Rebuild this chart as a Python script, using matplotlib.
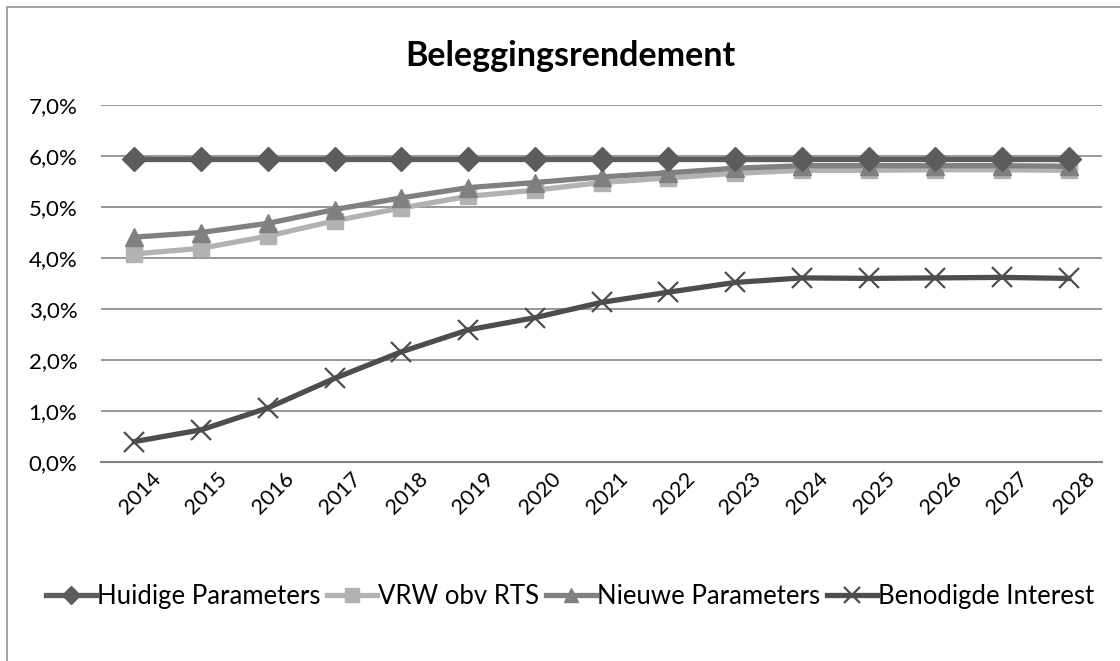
import matplotlib.pyplot as plt
from matplotlib.ticker import FuncFormatter, MultipleLocator
from matplotlib.patches import Rectangle
from matplotlib.transforms import ScaledTranslation

plt.rcParams['font.family'] = ['Lato', 'DejaVu Sans']

# Data (percentages)
years = [str(y) for y in range(2014, 2029)]
huidige = [5.94] * 15
vrw = [4.08, 4.19, 4.43, 4.73, 4.98, 5.21, 5.33, 5.48, 5.57, 5.66,
       5.72, 5.72, 5.73, 5.73, 5.72]
nieuwe = [4.41, 4.50, 4.68, 4.95, 5.18, 5.38, 5.48, 5.59, 5.67, 5.76,
          5.81, 5.81, 5.81, 5.81, 5.80]
benodigd = [0.40, 0.63, 1.06, 1.64, 2.16, 2.59, 2.83, 3.13, 3.33, 3.52,
            3.61, 3.60, 3.61, 3.62, 3.60]

fig = plt.figure(figsize=(11.2, 6.61), dpi=100)
ax = fig.add_axes([0.0902, 0.3011, 0.8938, 0.540])

# chart border (cropped at right/bottom like the reference)
fig.patches.append(Rectangle((7 / 1120, -0.1), 1.2, 1 - 7 / 661 + 0.1,
                             transform=fig.transFigure, fill=False,
                             edgecolor='#a6a6a6', linewidth=1.5))

x = list(range(len(years)))
ax.plot(x, huidige, color='#5c5c5c', lw=3.8, marker='D', ms=12,
        label='Huidige Parameters', zorder=5)
ax.plot(x, vrw, color='#b2b2b2', lw=3.8, marker='s', ms=12,
        label='VRW obv RTS', zorder=3)
ax.plot(x, nieuwe, color='#808080', lw=3.8, marker='^', ms=13,
        label='Nieuwe Parameters', zorder=4)
ax.plot(x, benodigd, color='#4d4d4d', lw=3.8, marker='x', ms=14, mew=1.6,
        label='Benodigde Interest', zorder=6)

ax.set_xlim(-0.5, len(years) - 0.5)
ax.set_ylim(0, 7)
ax.yaxis.set_major_locator(MultipleLocator(1))
ax.yaxis.set_major_formatter(FuncFormatter(lambda v, p: f"{v:.1f}%".replace('.', ',')))
ax.set_xticks(x)
ax.set_xticklabels(years, rotation=45, ha='right', va='top', rotation_mode='anchor')
ax.tick_params(axis='both', length=0)
ax.tick_params(axis='x', pad=5, labelsize=15.5)
ax.tick_params(axis='y', pad=17, labelsize=16)
shift = ScaledTranslation(16 / 100, 0, fig.dpi_scale_trans)
for lbl in ax.get_xticklabels():
    lbl.set_transform(lbl.get_transform() + shift)
ax.grid(axis='y', color='#868686', lw=1.2)
ax.set_axisbelow(True)
for s in ['top', 'right', 'left']:
    ax.spines[s].set_visible(False)
ax.spines['bottom'].set_color('#868686')
ax.spines['bottom'].set_linewidth(1.5)

fig.text(0.509, 0.915, 'Beleggingsrendement', ha='center', va='center',
         fontsize=24.5, fontweight='bold')

fig.legend(loc='center', bbox_to_anchor=(0.509, 0.097), ncol=4, frameon=False,
           fontsize=18.5, handlelength=1.95, handletextpad=0.05,
           columnspacing=0.25, markerscale=0.8)

fig.savefig('out.png', dpi=100)
